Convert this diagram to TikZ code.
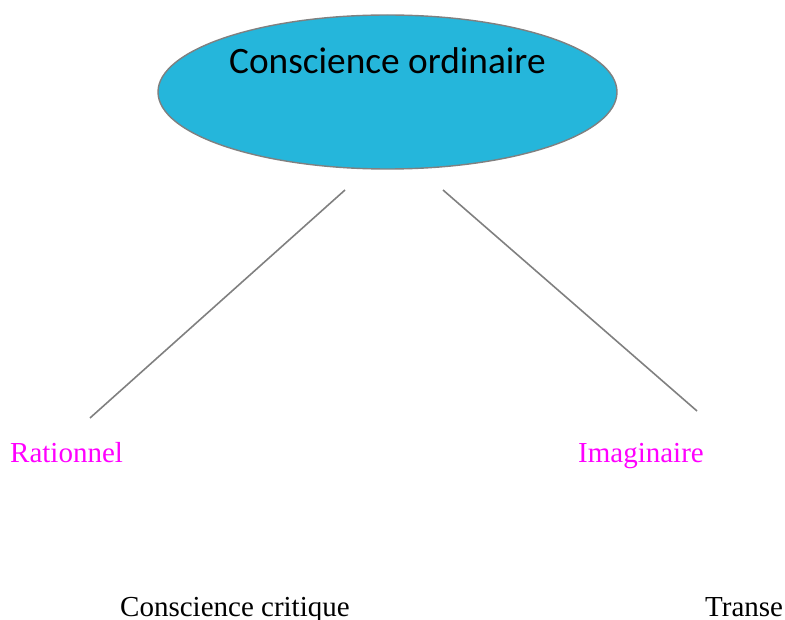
\documentclass[tikz,border=0pt]{standalone}
\usepackage{fontspec}
\setmainfont{Liberation Serif}
\newfontfamily\calib{Carlito}
\usetikzlibrary{shapes.geometric}
\definecolor{ellblue}{RGB}{37,182,219}
\definecolor{linegray}{RGB}{128,128,128}
\definecolor{mag}{RGB}{255,0,255}
\begin{document}
\begin{tikzpicture}[x=1pt,y=-1pt,
  bubble/.style={ellipse,draw=linegray,line width=1.4pt,fill=ellblue,minimum width=459pt,minimum height=154pt,inner sep=0pt},
  conn/.style={draw=linegray,line width=1.6pt},
  pinklabel/.style={anchor=base west,inner sep=0pt,text=mag,font=\fontsize{29}{34}\selectfont},
  blacklabel/.style={anchor=base west,inner sep=0pt,text=black,font=\fontsize{29}{34}\selectfont}]
\useasboundingbox (0,0) rectangle (785,620);
\node[bubble] (top) at (387.5,92) {};
\node[anchor=base west,inner sep=0pt,font=\calib\fontsize{37.3}{42}\selectfont] (toptext) at (229,74) {Conscience ordinaire};
\coordinate (l1a) at (345,190);
\coordinate (l1b) at (90,418);
\coordinate (l2a) at (443,190);
\coordinate (l2b) at (697,411);
\draw[conn] (l1a) -- (l1b);
\draw[conn] (l2a) -- (l2b);
\node[pinklabel] (rat) at (10,462) {Rationnel};
\node[pinklabel] (ima) at (578,462) {Imaginaire};
\node[blacklabel] (crit) at (120,616) {Conscience critique};
\node[blacklabel] (tra) at (705,616) {Transe};
\end{tikzpicture}
\end{document}
